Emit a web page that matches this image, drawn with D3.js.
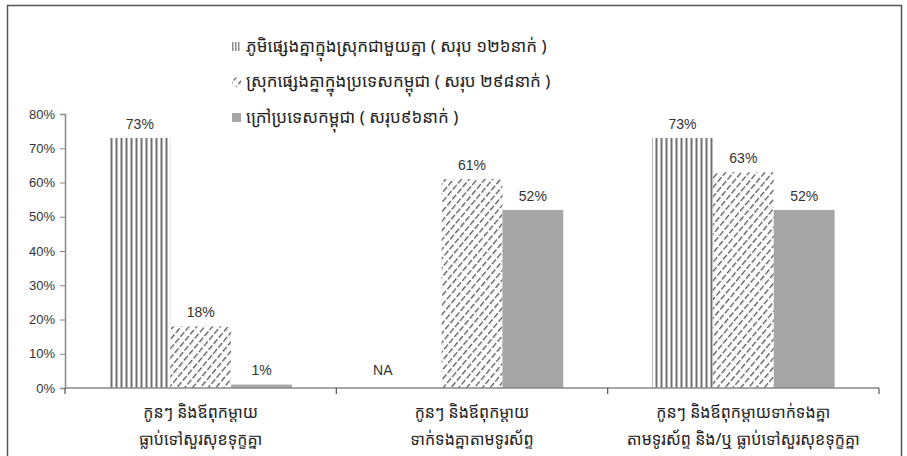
<!DOCTYPE html>
<html>
<head>
<meta charset="utf-8">
<script src="https://cdn.jsdelivr.net/npm/d3@7"></script>
<style>
  body { margin: 0; background: #fff; }
  text { font-family: "Liberation Sans", Arial, sans-serif; }
  .kh { font-family: "Noto Sans Khmer", "Khmer OS", "Noto Sans", sans-serif; }
</style>
</head>
<body>
<svg id="chart" width="907" height="456"></svg>
<script>
const categories = [
    ["កូនៗ និងឪពុកម្តាយ", "ធ្លាប់ទៅសួរសុខទុក្ខគ្នា"],
    ["កូនៗ និងឪពុកម្តាយ", "ទាក់ទងគ្នាតាមទូរស័ព្ទ"],
    ["កូនៗ និងឪពុកម្តាយទាក់ទងគ្នា", "តាមទូរស័ព្ទ និង/ឬ ធ្លាប់ទៅសួរសុខទុក្ខគ្នា"]
];
const seriesNames = [
    "ភូមិផ្សេងគ្នាក្នុងស្រុកជាមួយគ្នា ( សរុប ១២៦នាក់ )",
    "ស្រុកផ្សេងគ្នាក្នុងប្រទេសកម្ពុជា ( សរុប ២៩៨នាក់ )",
    "ក្រៅប្រទេសកម្ពុជា ( សរុប៩៦នាក់ )"
];
// null = NA
const villageVals = [73, null, 73];
const districtVals = [18, 61, 63];
const abroadVals = [1, 52, 52];
const yTicks = [0, 10, 20, 30, 40, 50, 60, 70, 80];

const series = [villageVals, districtVals, abroadVals];
const fills = ["url(#vlines)", "url(#hatch)", "#a6a6a6"];

const svg = d3.select("#chart");

// patterns
const defs = svg.append("defs");
const vl = defs.append("pattern")
    .attr("id", "vlines").attr("patternUnits", "userSpaceOnUse")
    .attr("width", 5).attr("height", 10);
vl.append("rect").attr("width", 5).attr("height", 10).attr("fill", "#fff");
vl.append("rect").attr("x", 0.5).attr("width", 2).attr("height", 10).attr("fill", "#707070");

const ht = defs.append("pattern")
    .attr("id", "hatch").attr("patternUnits", "userSpaceOnUse")
    .attr("width", 6).attr("height", 8)
    .attr("patternTransform", "rotate(40)");
ht.append("rect").attr("width", 6).attr("height", 8).attr("fill", "#fff");
ht.append("line").attr("x1", 0).attr("y1", 0).attr("x2", 0).attr("y2", 6)
    .attr("stroke", "#555").attr("stroke-width", 2.6);

// frame
svg.append("rect")
    .attr("x", 7.5).attr("y", 5.5).attr("width", 894).attr("height", 470)
    .attr("fill", "none").attr("stroke", "#555").attr("stroke-width", 1.5);

const x0 = 65, x1 = 879, yBase = 388, yTop = 114;

const x = d3.scaleBand().domain(d3.range(categories.length)).range([x0, x1]).paddingInner(0).paddingOuter(0);
const xs = d3.scaleBand().domain(d3.range(series.length)).range([0, x.bandwidth()]).paddingOuter(0.73).paddingInner(0);
const y = d3.scaleLinear().domain([0, 80]).range([yBase, yTop]);

// bars
series.forEach((vals, si) => {
    const g = svg.append("g");
    vals.forEach((v, ci) => {
        const bx = x(ci) + xs(si);
        if (v === null) {
            g.append("text").attr("x", bx + 2).attr("y", yBase - 18)
                .attr("text-anchor", "middle").attr("dy", "0.35em")
                .attr("font-size", 14).attr("fill", "#333").text("NA");
            return;
        }
        g.append("rect")
            .attr("x", bx).attr("y", y(v))
            .attr("width", xs.bandwidth()).attr("height", yBase - y(v))
            .attr("fill", fills[si]);
        g.append("text")
            .attr("x", bx + xs.bandwidth() / 2).attr("y", y(v) - 14)
            .attr("dy", "0.35em").attr("text-anchor", "middle")
            .attr("font-size", 14).attr("fill", "#333")
            .text(v + "%");
    });
});

// y axis
const yAxis = svg.append("g")
    .attr("transform", `translate(${x0},0)`)
    .call(d3.axisLeft(y).tickValues(yTicks).tickFormat(d => d + "%").tickSize(5).tickPadding(5));
yAxis.select(".domain").attr("stroke", "#888").attr("stroke-width", 1.5);
yAxis.selectAll(".tick line").attr("stroke", "#888");
yAxis.selectAll("text").attr("font-size", 13).attr("fill", "#333")
    .attr("font-family", "Liberation Sans, Arial, sans-serif");

// x axis
const xAxis = svg.append("g").attr("transform", `translate(0,${yBase})`);
xAxis.append("line").attr("x1", x0).attr("x2", x1)
    .attr("stroke", "#888").attr("stroke-width", 1.5);
xAxis.selectAll("line.sep")
    .data(d3.range(categories.length + 1))
    .join("line").attr("class", "sep")
    .attr("x1", d => x0 + d * x.bandwidth()).attr("x2", d => x0 + d * x.bandwidth())
    .attr("y1", 0).attr("y2", 6)
    .attr("stroke", "#555").attr("stroke-width", 1.2);

const catLabel = svg.append("g").selectAll("text")
    .data(categories)
    .join("text").attr("class", "kh")
    .attr("text-anchor", "middle").attr("font-size", 16).attr("fill", "#222");
catLabel.selectAll("tspan")
    .data((d, i) => d.map(t => ({ t, i })))
    .join("tspan")
    .attr("x", d => x(d.i) + x.bandwidth() / 2)
    .attr("y", (d, j) => 418 + j * 27)
    .text(d => d.t);

// legend
const legend = svg.append("g").attr("transform", "translate(232,46)");
const item = legend.selectAll("g").data(seriesNames)
    .join("g").attr("transform", (d, i) => `translate(0,${i * 35.5})`);
item.each(function (d, i) {
    const g = d3.select(this);
    if (i === 0) {
        [0, 3, 6].forEach(o => g.append("rect").attr("x", o).attr("y", -4).attr("width", 1.5).attr("height", 9).attr("fill", "#8a8a8a"));
    } else if (i === 1) {
        g.append("rect").attr("x", 0).attr("y", -4).attr("width", 9).attr("height", 9).attr("fill", "url(#hatch)");
    } else {
        g.append("rect").attr("x", 0).attr("y", -4).attr("width", 9).attr("height", 9).attr("fill", "#a6a6a6");
    }
});
item.append("text").attr("class", "kh")
    .attr("x", 14).attr("dy", "0.35em")
    .attr("font-size", 17).attr("fill", "#222")
    .text(d => d);
</script>
</body>
</html>
